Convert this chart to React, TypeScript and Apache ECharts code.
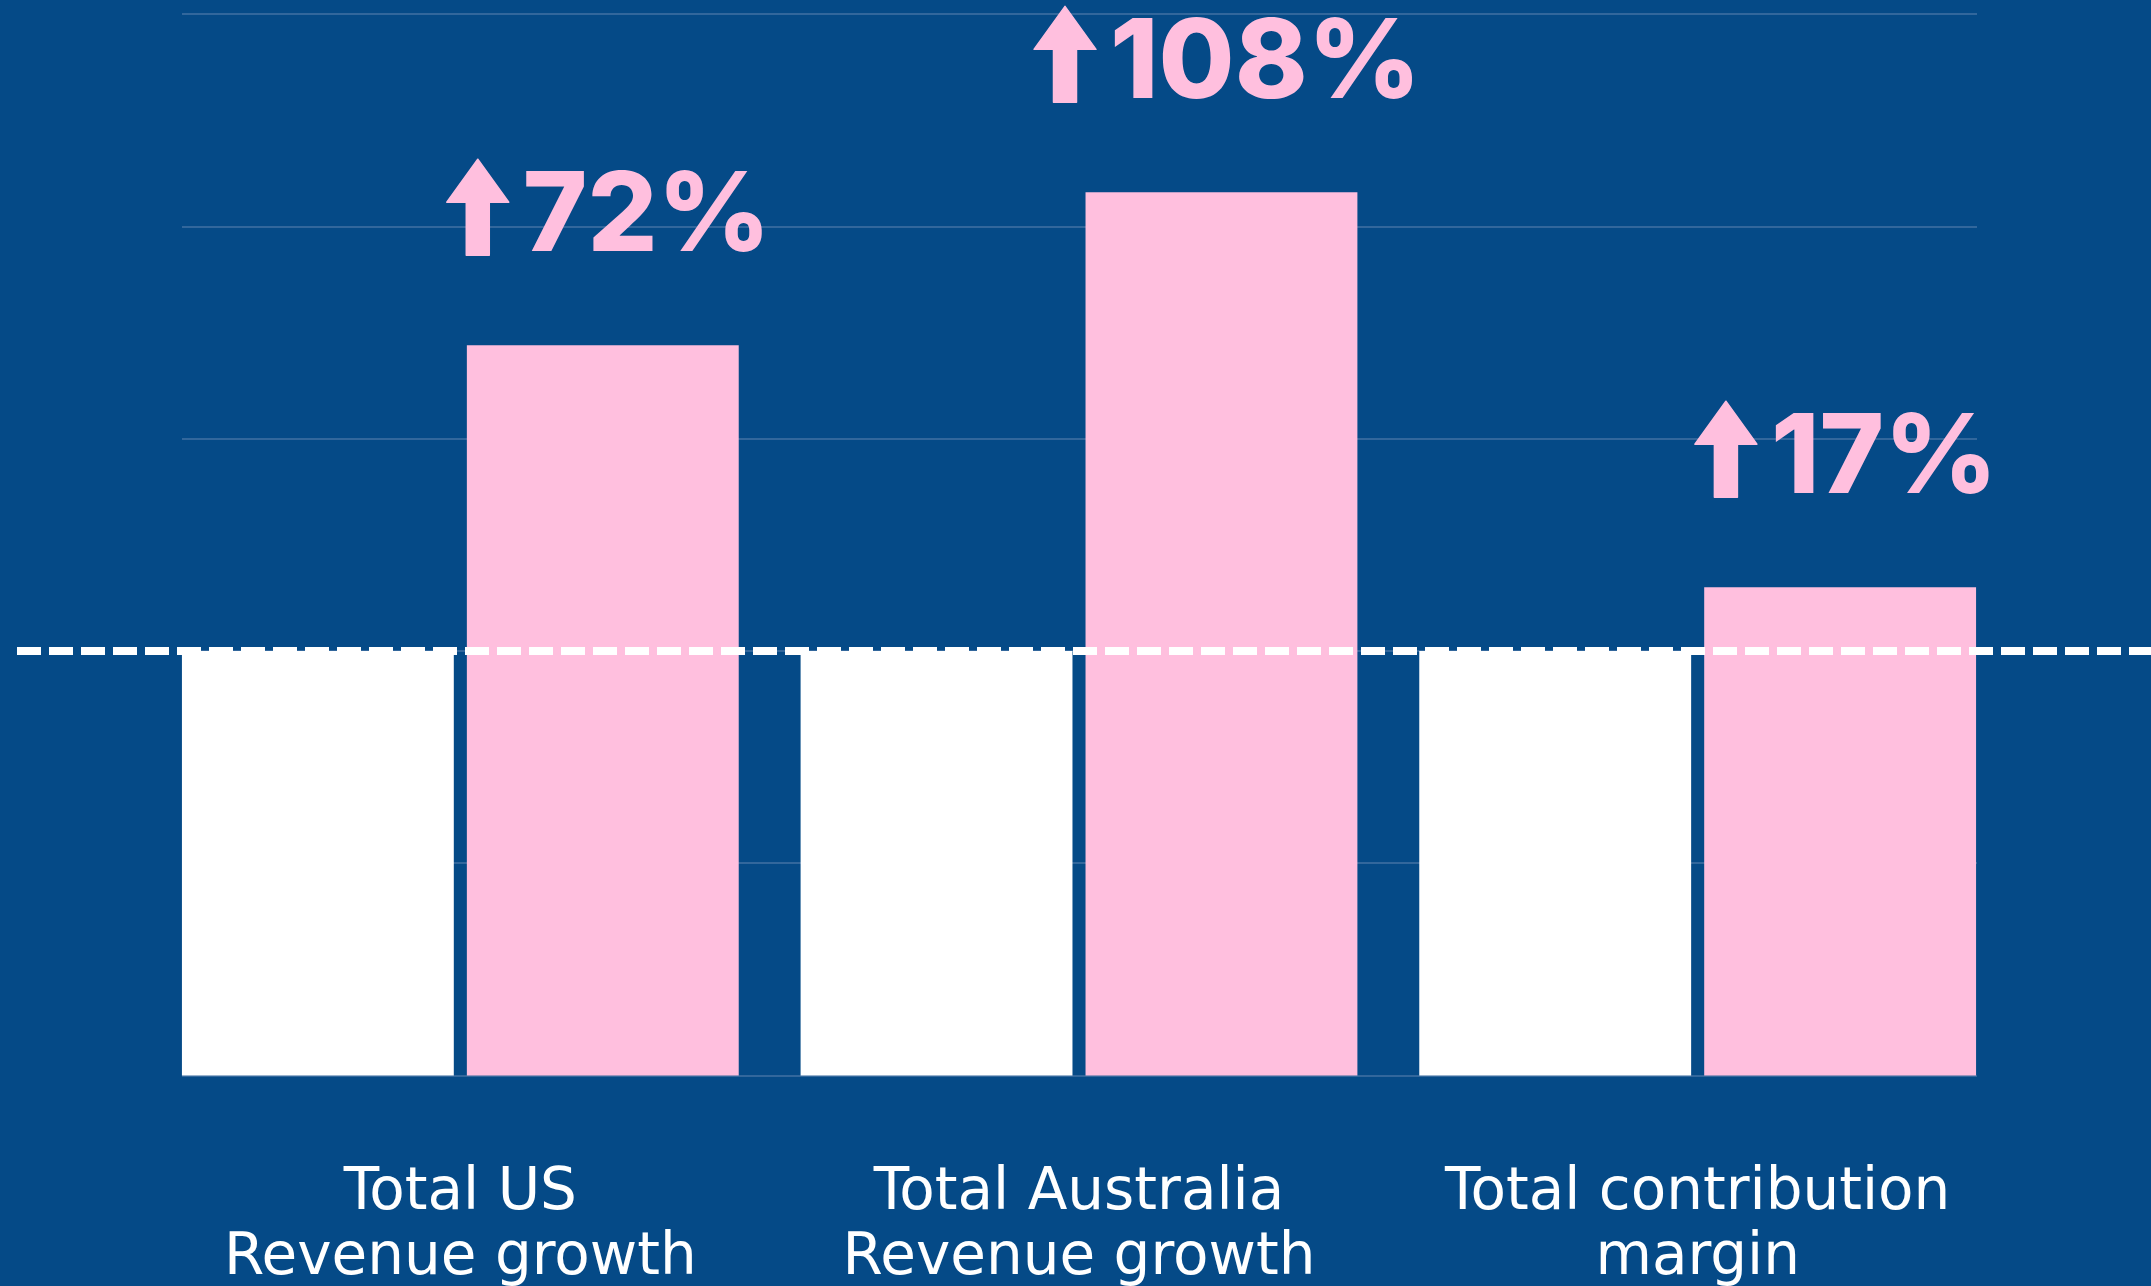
import React, { useEffect, useRef } from 'react';
import * as echarts from 'echarts';

const categories = ['Total US\nRevenue growth', 'Total Australia\nRevenue growth', 'Total contribution\nmargin'];
const baseline = [100, 100, 100];
const current = [172, 208, 115];
const growthLabels = ['72%', '108%', '17%'];
const yMin = 0;
const yMax = 250;
const yInterval = 50;

const BG = '#054A87';
const PINK = '#FFBFDE';
const LABEL_FONT = '800 110px Inter, "Open Sans", sans-serif';

let measureCtx: CanvasRenderingContext2D | null = null;
function measure(text: string, font: string): number {
  if (!measureCtx) measureCtx = document.createElement('canvas').getContext('2d');
  if (!measureCtx) return text.length * 60;
  measureCtx.font = font;
  return measureCtx.measureText(text).width;
}

export default function App() {
  const ref = useRef<HTMLDivElement>(null);
  useEffect(() => {
    if (!ref.current) return;
    const chart = echarts.init(ref.current, null, { renderer: 'svg' });
    const catGap = 0.1;
    const barGap = 0.048;
    const gridBase = { top: 14, bottom: 210.5, outerBoundsMode: 'none', containLabel: false };
    const option: any = {
      animation: false,
      backgroundColor: BG,
      grid: [
        { ...gridBase, left: 151, right: 144 },
        { ...gridBase, left: 182, right: 174 },
        { ...gridBase, left: 17, right: 0 },
      ],
      xAxis: [
        {
          gridIndex: 0,
          type: 'category',
          data: categories,
          axisLine: { show: false },
          axisTick: { show: false },
          axisLabel: {
            interval: 0,
            hideOverlap: false,
            color: '#FFFFFF',
            fontFamily: '"DejaVu Sans", sans-serif',
            fontWeight: 'normal',
            fontSize: 58,
            lineHeight: 65,
            margin: 81,
          },
        },
        { gridIndex: 1, type: 'value', min: 0, max: 1, show: false },
        { gridIndex: 2, type: 'value', min: 0, max: 1, show: false },
      ],
      yAxis: [
        { gridIndex: 0, type: 'value', min: yMin, max: yMax, interval: yInterval, show: false },
        {
          gridIndex: 1,
          type: 'value',
          min: yMin,
          max: yMax,
          interval: yInterval,
          axisLine: { show: false },
          axisTick: { show: false },
          axisLabel: { show: false },
          splitLine: { show: true, lineStyle: { color: '#4272A3', width: 1.5 } },
        },
        { gridIndex: 2, type: 'value', min: yMin, max: yMax, show: false },
      ],
      series: [
        {
          type: 'bar',
          xAxisIndex: 0,
          yAxisIndex: 0,
          data: baseline,
          itemStyle: { color: '#FFFFFF' },
          barGap: barGap * 100 + '%',
          barCategoryGap: catGap * 100 + '%',
          z: 2,
        },
        {
          type: 'bar',
          xAxisIndex: 0,
          yAxisIndex: 0,
          data: current,
          itemStyle: { color: PINK },
          barGap: barGap * 100 + '%',
          barCategoryGap: catGap * 100 + '%',
          z: 2,
        },
        {
          type: 'line',
          xAxisIndex: 2,
          yAxisIndex: 2,
          data: [[0, baseline[0]], [1, baseline[0]]],
          symbol: 'none',
          lineStyle: { color: '#FFFFFF', width: 8, type: [24, 8] },
          z: 10,
          silent: true,
        },
        {
          type: 'custom',
          xAxisIndex: 0,
          yAxisIndex: 0,
          data: current.map((v, i) => [i, v]),
          z: 11,
          silent: true,
          renderItem: (params: any, api: any) => {
            const i = api.value(0);
            const v = api.value(1);
            const pt = api.coord([i, v]);
            const band = api.size([1, 0])[0];
            const bw = (band * (1 - catGap)) / (2 + barGap);
            const cx = pt[0] + (bw * (1 + barGap)) / 2 + 6;
            const text = growthLabels[params.dataIndex];
            const tw = measure(text, LABEL_FONT);
            const arrowW = 62;
            const space = 14;
            const total = arrowW + space + tw;
            const left = cx - total / 2;
            const capMid = pt[1] - 134;
            const top = capMid - 52;
            const headH = 43;
            const h = 96;
            const shaftL = 19.5;
            const shaftR = 42.5;
            return {
              type: 'group',
              children: [
                {
                  type: 'polygon',
                  shape: {
                    points: [
                      [left + arrowW / 2, top],
                      [left + arrowW, top + headH],
                      [left + shaftR, top + headH],
                      [left + shaftR, top + h],
                      [left + shaftL, top + h],
                      [left + shaftL, top + headH],
                      [left, top + headH],
                    ],
                  },
                  style: { fill: PINK, stroke: PINK, lineWidth: 1.5, lineJoin: 'round' },
                },
                {
                  type: 'text',
                  x: left + arrowW + space,
                  y: capMid,
                  style: {
                    text,
                    fill: PINK,
                    font: LABEL_FONT,
                    align: 'left',
                    verticalAlign: 'middle',
                  },
                },
              ],
            };
          },
        },
      ],
    };
    chart.setOption(option);
    return () => chart.dispose();
  }, []);
  return <div ref={ref} style={{ position: 'fixed', left: 0, top: 0, width: 2151, height: 1286 }} />;
}
